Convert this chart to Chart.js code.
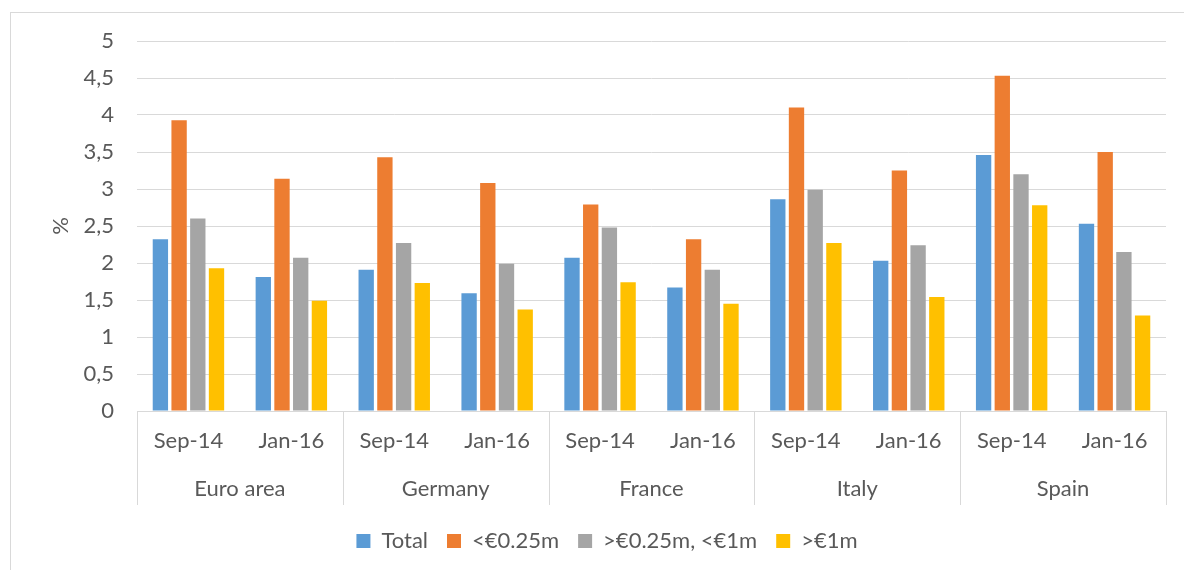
<!DOCTYPE html>
<html>
<head>
<meta charset="utf-8">
<script src="https://cdn.jsdelivr.net/npm/chart.js@4/dist/chart.umd.min.js"></script>
<style>
  html, body { margin: 0; padding: 0; background: #ffffff; }
  #wrap { position: relative; width: 1184px; height: 570px; }
</style>
</head>
<body>
<div id="wrap"><canvas id="c" width="1184" height="570"></canvas></div>
<script>
const periods = ['Sep-14', 'Jan-16'];
const countries = ['Euro area', 'Germany', 'France', 'Italy', 'Spain'];
const seriesNames = ['Total', '<€0.25m', '>€0.25m, <€1m', '>€1m'];
const seriesColors = ['#5B9BD5', '#ED7D31', '#A5A5A5', '#FFC000'];
const totalValues  = [2.32, 1.81, 1.91, 1.59, 2.07, 1.67, 2.86, 2.03, 3.46, 2.53];
const smallValues  = [3.93, 3.14, 3.43, 3.08, 2.79, 2.32, 4.10, 3.25, 4.53, 3.50];
const mediumValues = [2.60, 2.07, 2.27, 1.99, 2.48, 1.91, 2.99, 2.24, 3.20, 2.15];
const largeValues  = [1.93, 1.49, 1.73, 1.37, 1.74, 1.45, 2.27, 1.54, 2.78, 1.29];
const yTickLabels = ['0', '0,5', '1', '1,5', '2', '2,5', '3', '3,5', '4', '4,5', '5'];
const yTitle = '%';

const categoryLabels = [];
countries.forEach(() => periods.forEach(p => categoryLabels.push(p)));
const seriesValues = [totalValues, smallValues, mediumValues, largeValues];

const FONT = 'Lato';
const FS = 22;
const TEXT = '#595959';
const GRID = '#d9d9d9';

const framePlugin = {
  id: 'frame',
  beforeDraw(chart) {
    const ctx = chart.ctx;
    ctx.save();
    ctx.fillStyle = '#ffffff';
    ctx.fillRect(0, 0, chart.width, chart.height);
    ctx.strokeStyle = GRID;
    ctx.lineWidth = 1;
    ctx.strokeRect(10.5, 12.5, chart.width + 20, chart.height + 20);
    ctx.restore();
  }
};

const separatorPlugin = {
  id: 'separators',
  afterDraw(chart) {
    const x2 = chart.scales.x2;
    const x = chart.scales.x;
    const ctx = chart.ctx;
    ctx.save();
    ctx.strokeStyle = GRID;
    ctx.lineWidth = 1;
    for (let i = 0; i <= countries.length; i++) {
      const px = Math.round(x2.getPixelForValue(i - 0.5)) + 0.5;
      ctx.beginPath();
      ctx.moveTo(px, x.top);
      ctx.lineTo(px, x.top + 94);
      ctx.stroke();
    }
    ctx.restore();
  }
};

new Chart(document.getElementById('c'), {
  type: 'bar',
  data: {
    labels: categoryLabels,
    datasets: seriesNames.map((name, i) => ({
      label: name,
      data: seriesValues[i],
      backgroundColor: seriesColors[i],
      borderWidth: 0,
      xAxisID: 'x',
      yAxisID: 'y',
      barPercentage: 0.82,
      categoryPercentage: 0.727
    }))
  },
  options: {
    responsive: false,
    animation: false,
    layout: { padding: { left: 48, right: 18, top: 41, bottom: 8 } },
    plugins: {
      tooltip: { enabled: false },
      legend: {
        position: 'bottom',
        labels: {
          boxWidth: 14,
          boxHeight: 14,
          padding: 19,
          color: TEXT,
          font: { family: FONT, size: FS }
        }
      }
    },
    scales: {
      y: {
        min: 0,
        max: 5,
        ticks: {
          stepSize: 0.5,
          padding: 23,
          color: TEXT,
          font: { family: FONT, size: FS }
        ,
          callback: (v, i) => yTickLabels[i]
        },
        grid: { color: GRID, lineWidth: 1, drawTicks: false },
        border: { display: false },
        title: {
          display: true,
          text: yTitle,
          color: TEXT,
          padding: 0,
          font: { family: FONT, size: FS }
        },
        afterFit(scale) { scale.width = 89; }
      },
      x: {
        type: 'category',
        position: 'bottom',
        offset: true,
        grid: { display: false, drawTicks: false },
        border: { display: true, color: GRID, width: 1 },
        ticks: {
          padding: 17,
          color: TEXT,
          maxRotation: 0,
          autoSkip: false,
          font: { family: FONT, size: FS }
        },
        afterFit(scale) { scale.height = 58; }
      },
      x2: {
        type: 'category',
        position: 'bottom',
        labels: countries,
        offset: true,
        grid: { display: false, drawTicks: false },
        border: { display: false },
        ticks: {
          padding: 7,
          color: TEXT,
          maxRotation: 0,
          autoSkip: false,
          font: { family: FONT, size: FS }
        },
        afterFit(scale) { scale.height = 42; }
      }
    }
  },
  plugins: [framePlugin, separatorPlugin]
});
</script>
</body>
</html>
